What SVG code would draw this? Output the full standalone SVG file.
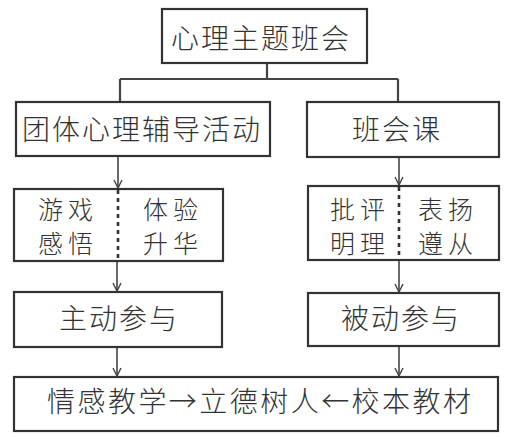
<svg xmlns="http://www.w3.org/2000/svg" width="521" height="439" viewBox="0 0 521 439">
<style>
.box{fill:#fff;stroke:#333;stroke-width:2.2}
.t{font-family:"Noto Sans CJK SC","Noto Sans",sans-serif;font-size:28px;font-weight:300;fill:#333;letter-spacing:2px}
.s{font-size:25px;letter-spacing:5px}
.c{fill:none;stroke:#444;stroke-width:1.6}
.dot{stroke:#333;stroke-width:2.6;stroke-dasharray:4 4}
</style>
<defs>
<marker id="ar" viewBox="0 0 10 10" refX="9" refY="5" markerWidth="10" markerHeight="10" markerUnits="userSpaceOnUse" orient="auto">
<path d="M1 1 L9 5 L1 9" fill="none" stroke="#444" stroke-width="1.4"/>
</marker>
</defs>
<rect width="521" height="439" fill="#fff"/>
<g id="connectors">
<path class="c" d="M267 63 V79 M120 79 H398 M120 79 V102 M398 79 V102" style="stroke-width:2.2"/>
<path class="c" d="M118 157 V188" marker-end="url(#ar)"/>
<path class="c" d="M399 157 V185" marker-end="url(#ar)"/>
<path class="c" d="M117 261 V291" marker-end="url(#ar)"/>
<path class="c" d="M399 260 V292" marker-end="url(#ar)"/>
<path class="c" d="M117 347 V376" marker-end="url(#ar)"/>
<path class="c" d="M399 346 V376" marker-end="url(#ar)"/>
</g>
<g id="top">
<rect class="box" x="162" y="9" width="205" height="54"/>
<text class="t" x="171" y="49">心理主题班会</text>
</g>
<g id="group-activity">
<rect class="box" x="16" y="102" width="254" height="54"/>
<text class="t" x="22" y="140">团体心理辅导活动</text>
</g>
<g id="class-lesson">
<rect class="box" x="307" y="102" width="192" height="55"/>
<text class="t" x="352" y="140">班会课</text>
</g>
<g id="left-methods">
<rect class="box" x="14" y="189" width="209" height="72"/>
<line class="dot" x1="118" y1="190" x2="118" y2="260"/>
<text class="t s" x="38" y="219">游戏</text>
<text class="t s" x="143" y="219">体验</text>
<text class="t s" x="38" y="253">感悟</text>
<text class="t s" x="143" y="253">升华</text>
</g>
<g id="right-methods">
<rect class="box" x="308" y="186" width="191" height="74"/>
<line class="dot" x1="399" y1="187" x2="399" y2="259"/>
<text class="t s" x="330" y="219">批评</text>
<text class="t s" x="418" y="219">表扬</text>
<text class="t s" x="330" y="253">明理</text>
<text class="t s" x="418" y="253">遵从</text>
</g>
<g id="active">
<rect class="box" x="14" y="292" width="208" height="55"/>
<text class="t" x="59" y="329">主动参与</text>
</g>
<g id="passive">
<rect class="box" x="308" y="293" width="191" height="53"/>
<text class="t" x="341" y="329">被动参与</text>
</g>
<g id="bottom">
<rect class="box" x="14" y="377" width="484" height="54"/>
<text class="t" x="47" y="412" textLength="426" lengthAdjust="spacing">情感教学→立德树人←校本教材</text>
</g>
</svg>
